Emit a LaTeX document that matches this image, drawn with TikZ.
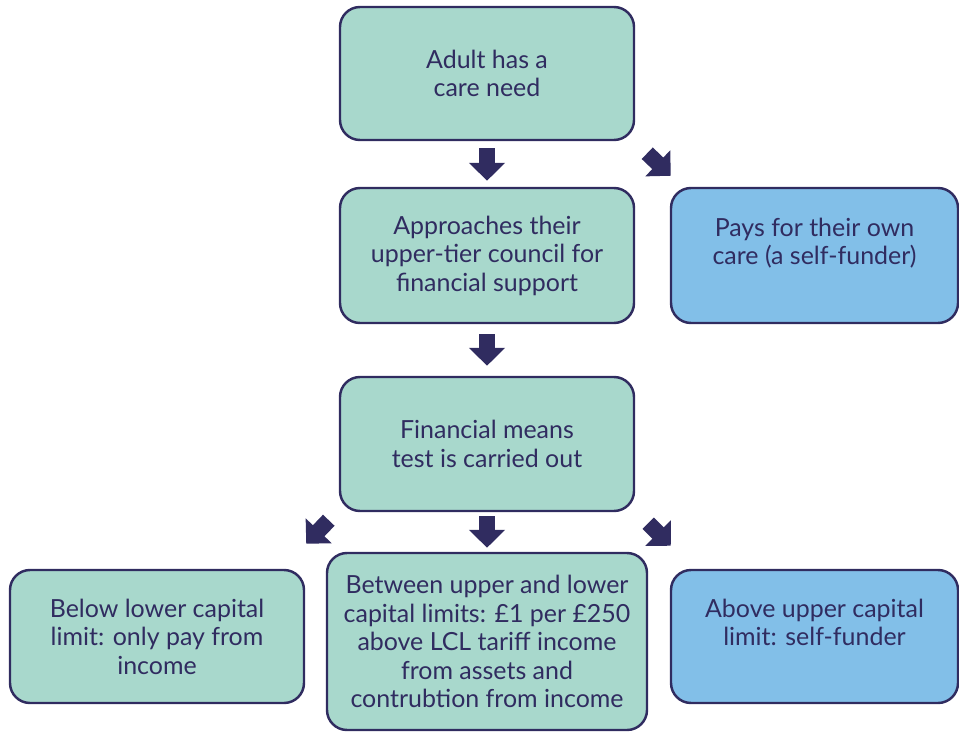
\documentclass[tikz,border=0pt]{standalone}
\usepackage{fontspec}
\setmainfont{Lato}
\usetikzlibrary{arrows.meta,calc}

\definecolor{inchiostro}{HTML}{302C60}
\definecolor{verde}{HTML}{A8D8CC}
\definecolor{azzurro}{HTML}{82BFE8}

\begin{document}
\begin{tikzpicture}[
    font=\fontsize{14.2}{16.2}\selectfont,
    scatola/.style={draw=inchiostro, line width=1.4pt, rounded corners=0.4cm,
        text=inchiostro, align=center, inner sep=0pt},
    verdebox/.style={scatola, fill=verde},
    bluebox/.style={scatola, fill=azzurro},
    freccia/.style={inchiostro, line width=0.32cm,
        -{Triangle[length=0.36cm,width=0.7cm]}}
    ]
        % Area del disegno
        \useasboundingbox (0,0) rectangle (19.18,-14.64);

        % Disegna le caselle
        \node[verdebox, minimum width=5.88cm, minimum height=2.66cm] (adulto) at (9.74,-1.47)
            {Adult has a\\ care need};
        \node[verdebox, minimum width=5.88cm, minimum height=2.70cm] (consiglio) at (9.74,-5.11)
            {Approaches their\\ upper-tier council for\\ financial support};
        \node[bluebox, minimum width=5.74cm, minimum height=2.70cm] (pagante) at (16.29,-5.11)
            {Pays for their own\\ care (a self-funder)\\ \mbox{}};
        \node[verdebox, minimum width=5.88cm, minimum height=2.68cm] (test) at (9.74,-8.88)
            {Financial means\\ test is carried out};
        \node[verdebox, minimum width=5.88cm, minimum height=2.66cm] (sotto) at (3.14,-12.73)
            {Below lower capital\\ limit: only pay from\\ income};
        \node[verdebox, minimum width=6.40cm, minimum height=3.54cm] (mezzo) at (9.74,-12.83)
            {Between upper and lower\\ capital limits: £1 per £250\\ above LCL tariff income\\
             from assets and\\ contrubtion from income};
        \node[bluebox, minimum width=5.74cm, minimum height=2.66cm] (sopra) at (16.29,-12.73)
            {Above upper capital\\ limit: self-funder\\ \mbox{}};

        % Disegna le frecce
        \draw[freccia] ($(adulto.south)+(0,-0.14)$) -- ($(consiglio.north)+(0,0.12)$);
        \draw[freccia] ($(adulto.south east)+(0.24,-0.24)$) -- ($(pagante.north west)+(0.02,0.22)$);
        \draw[freccia] ($(consiglio.south)+(0,-0.2)$) -- ($(test.north)+(0,0.2)$);
        \draw[freccia] ($(test.south west)+(-0.2,-0.16)$) -- ($(sotto.north east)+(0.02,0.5)$);
        \draw[freccia] ($(test.south)+(0,-0.08)$) -- ($(mezzo.north)+(0,0.08)$);
        \draw[freccia] ($(test.south east)+(0.26,-0.22)$) -- ($(sopra.north west)+(0.02,0.46)$);
    \end{tikzpicture}
\end{document}
